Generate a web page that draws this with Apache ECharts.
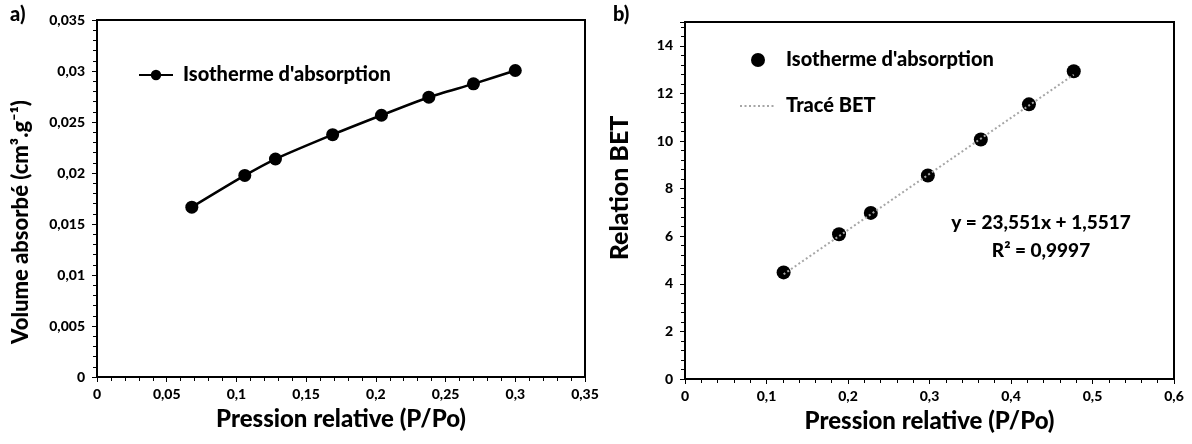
<!DOCTYPE html>
<html>
<head>
<meta charset="utf-8">
<script src="https://cdn.jsdelivr.net/npm/echarts@6/dist/echarts.min.js"></script>
<style>
html,body{margin:0;padding:0;background:#fff;}
#chart{width:1192px;height:444px;}
</style>
</head>
<body>
<div id="chart"></div>
<script>
// ---- data ----
const seriesName = "Isotherme d'absorption";
const trendName = "Tracé BET";
const pressureA = [0.068, 0.106, 0.128, 0.169, 0.204, 0.238, 0.270, 0.300];
const volumeA   = [0.01665, 0.01976, 0.02137, 0.02376, 0.02566, 0.02743, 0.02874, 0.03005];
const pressureB = [0.121, 0.189, 0.228, 0.298, 0.363, 0.422, 0.477];
const betB      = [4.48, 6.08, 6.98, 8.55, 10.06, 11.54, 12.93];
const fitSlope = 23.551;
const fitIntercept = 1.5517;
const equationText = "y = 23,551x + 1,5517";
const r2Text = "R² = 0,9997";
const xAxisA = {min: 0, max: 0.35, interval: 0.05};
const yAxisA = {min: 0, max: 0.035, interval: 0.005};
const xAxisB = {min: 0, max: 0.6, interval: 0.1};
const yAxisB = {min: 0, max: 15, interval: 2};
const xTitle = "Pression relative (P/Po)";
const yTitleA = "Volume absorbé (cm³.g⁻¹)";
const yTitleB = "Relation BET";

// ---- build ----
const FONT = 'Lato';
const W = 900;
const fmt = v => String(+v.toFixed(4)).replace('.', ',');
const lineA = pressureA.map((x, i) => [x, volumeA[i]]);
const ptsB = pressureB.map((x, i) => [x, betB[i]]);
const xMinB = Math.min(...pressureB), xMaxB = Math.max(...pressureB);
const trendB = [[xMinB, fitSlope * xMinB + fitIntercept], [xMaxB, fitSlope * xMaxB + fitIntercept]];

const labelStyle = {color: '#000', fontFamily: FONT, fontWeight: W, fontSize: 14};

function mainAxis(r, gridIndex, isX, extra) {
  return Object.assign({
    type: 'value', gridIndex: gridIndex, min: r.min, max: r.max, interval: r.interval,
    axisLine: {show: true, onZero: false, lineStyle: {color: '#000', width: 2}},
    axisTick: {show: true, inside: false, length: 5, lineStyle: {color: '#000', width: 1}},
    minorTick: {show: false},
    splitLine: {show: false},
    axisLabel: Object.assign({formatter: fmt, margin: isX ? 10 : 12, showMaxLabel: true}, labelStyle)
  }, extra || {});
}
function overlayAxis(r, gridIndex, extra) {
  return Object.assign({
    type: 'value', gridIndex: gridIndex, min: r.min, max: r.max, interval: r.interval,
    axisLine: {show: false},
    axisTick: {show: true, inside: true, length: 5, lineStyle: {color: '#000', width: 1}},
    minorTick: {show: true, splitNumber: 5, length: 4, lineStyle: {color: '#000', width: 1}},
    splitLine: {show: false},
    axisLabel: {show: false}
  }, extra || {});
}

const titleStyle = {color: '#000', fontFamily: FONT, fontWeight: W, fontSize: 24};
const chart = echarts.init(document.getElementById('chart'), null, {renderer: 'canvas'});
const option = {
  backgroundColor: '#fff',
  animation: false,
  grid: [
    {left: 97, top: 20, width: 488, height: 357, show: true, borderColor: '#000', borderWidth: 2, backgroundColor: 'transparent'},
    {left: 685, top: 22, width: 489, height: 357, show: true, borderColor: '#000', borderWidth: 2, backgroundColor: 'transparent'}
  ],
  xAxis: [
    mainAxis(xAxisA, 0, true, {name: xTitle, nameLocation: 'middle', nameGap: 30, nameTextStyle: titleStyle}),
    mainAxis(xAxisB, 1, true, {name: xTitle, nameLocation: 'middle', nameGap: 30, nameTextStyle: titleStyle}),
    overlayAxis(xAxisA, 0),
    overlayAxis(xAxisB, 1)
  ],
  yAxis: [
    mainAxis(yAxisA, 0, false),
    mainAxis(yAxisB, 1, false, {axisLabel: Object.assign({formatter: v => (v <= 14 ? fmt(v) : ''), margin: 12}, labelStyle)}),
    overlayAxis(yAxisA, 0),
    overlayAxis(yAxisB, 1)
  ],
  legend: [
    {
      left: 133, top: 60, orient: 'vertical', itemWidth: 34, itemHeight: 13, itemGap: 10,
      textStyle: {color: '#000', fontFamily: FONT, fontWeight: W, fontSize: 20, padding: [0, 0, 0, 5]},
      data: [{name: seriesName}],
      selectedMode: false
    },
    {
      left: 734, top: 45, orient: 'vertical', itemWidth: 36, itemHeight: 14, itemGap: 26,
      textStyle: {color: '#000', fontFamily: FONT, fontWeight: W, fontSize: 20, padding: [0, 0, 0, 5]},
      data: [
        {name: seriesName, icon: 'circle', itemStyle: {color: '#000', opacity: 1}},
        {name: trendName, itemStyle: {opacity: 0}}
      ],
      selectedMode: false
    }
  ],
  series: [
    {
      name: seriesName, type: 'line', xAxisIndex: 0, yAxisIndex: 0, data: lineA,
      smooth: 0.25, symbol: 'circle', symbolSize: 13,
      lineStyle: {color: '#000', width: 2.5}, itemStyle: {color: '#000', opacity: 1}
    },
    {
      name: seriesName + ' ', type: 'scatter', xAxisIndex: 1, yAxisIndex: 1, data: ptsB,
      symbol: 'circle', symbolSize: 14, itemStyle: {color: '#000', opacity: 1}, z: 2
    },
    {
      name: trendName, type: 'line', xAxisIndex: 1, yAxisIndex: 1, data: trendB,
      symbol: 'none', itemStyle: {color: '#a6a6a6'},
      lineStyle: {color: '#a6a6a6', width: 2, type: [2, 2.5]}, z: 5
    }
  ],
  graphic: [
    {type: 'text', left: 10, top: 5, style: {text: 'a)', fill: '#000', font: '900 20px Lato'}},
    {type: 'text', left: 613, top: 5, style: {text: 'b)', fill: '#000', font: '900 20px Lato'}},
    {type: 'text', x: 21, y: 222, rotation: Math.PI / 2,
      style: {text: yTitleA, fill: '#000', font: '900 22px Lato', align: 'center', verticalAlign: 'middle'}},
    {type: 'text', x: 620, y: 188, rotation: Math.PI / 2,
      style: {text: yTitleB, fill: '#000', font: '900 25px Lato', align: 'center', verticalAlign: 'middle'}},
    {type: 'text', x: 1041, y: 223,
      style: {text: equationText, fill: '#000', font: '900 19px Lato', align: 'center', verticalAlign: 'middle'}},
    {type: 'text', x: 1041, y: 251,
      style: {text: r2Text, fill: '#000', font: '900 19px Lato', align: 'center', verticalAlign: 'middle'}}
  ]
};
chart.setOption(option);
</script>
</body>
</html>
